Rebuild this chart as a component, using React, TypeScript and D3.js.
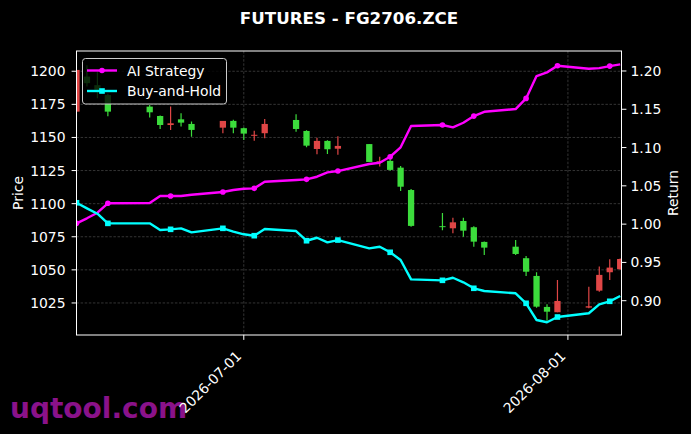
import React from "react";
import * as d3 from "d3";

const dates = [
  "2026-06-15","2026-06-16","2026-06-17","2026-06-18","2026-06-22","2026-06-23","2026-06-24","2026-06-25","2026-06-26",
  "2026-06-29","2026-06-30","2026-07-01","2026-07-02","2026-07-03","2026-07-06","2026-07-07","2026-07-08","2026-07-09",
  "2026-07-10","2026-07-13","2026-07-14","2026-07-15","2026-07-16","2026-07-17","2026-07-20","2026-07-21","2026-07-22",
  "2026-07-23","2026-07-24","2026-07-27","2026-07-28","2026-07-29","2026-07-30","2026-07-31","2026-08-03","2026-08-04",
  "2026-08-05","2026-08-06",
];
const opens = [1169.5,1196,1189.5,1182,1173.3,1166.2,1159.4,1163.7,1160.2,1157.4,1162.5,1157,1151.5,1153.2,1163.2,1154.9,1141.3,1147.4,1141.5,1145,1131.5,1132.3,1127.2,1110.3,1083,1081.4,1086.9,1082.2,1071.1,1067.5,1058.8,1045.4,1022,1018,1021.5,1034.3,1048.2,1050.5];
const highs = [1201,1204.5,1199.7,1183,1174.5,1166.5,1173.3,1168.3,1162,1162.5,1163.3,1157.5,1155,1164,1167.5,1155.5,1149.8,1147.8,1151,1145,1135.5,1135,1128.5,1111,1093,1089.4,1089.4,1083,1071.5,1072.6,1060.5,1048.2,1024,1042.4,1037.3,1052.6,1058,1058.5];
const lows = [1169,1188.5,1179.6,1166,1165,1156.4,1155.7,1158.2,1150.6,1153.2,1153.2,1148,1147.6,1149.4,1154.4,1142.6,1137.3,1137.5,1137,1131.5,1128,1124.8,1109.6,1082.5,1080,1077.6,1075,1067.5,1061.3,1061.3,1045.4,1021.4,1011.6,1018,1021,1033.5,1042.4,1050];
const closes = [1201,1191,1186,1169.5,1169,1159.4,1160.7,1161.2,1155.7,1162.5,1157.4,1152.9,1152,1160.2,1156.4,1143.8,1147.4,1141.1,1143.6,1131.5,1132,1125.5,1112.8,1083.2,1082.5,1085.9,1079.6,1071.3,1066.8,1062,1048.6,1022.2,1018.4,1026.5,1022.5,1046.2,1051.7,1058.2];
const aiReturn = [1.001,1.0076,1.0149,1.0272,1.0275,1.0367,1.0367,1.0367,1.0384,1.0419,1.0445,1.0462,1.0467,1.0553,1.0576,1.0585,1.0619,1.0676,1.0693,1.0785,1.0802,1.088,1.1003,1.1281,1.1294,1.1264,1.1324,1.1411,1.1467,1.1503,1.1642,1.1933,1.1982,1.2068,1.2029,1.2038,1.2064,1.2086];
const bhReturn = [1.0279,1.0206,1.0136,1.001,1.001,0.9923,0.9932,0.9945,0.9893,0.9945,0.9901,0.9867,0.9849,0.9936,0.991,0.9783,0.9822,0.9762,0.9792,0.9684,0.9705,0.9632,0.9531,0.9279,0.9266,0.93,0.924,0.9162,0.9127,0.9097,0.8966,0.8748,0.8718,0.8787,0.8836,0.8953,0.8992,0.9061];
const priceTicks = [1025, 1050, 1075, 1100, 1125, 1150, 1175, 1200];
const returnTicks = [0.9, 0.95, 1.0, 1.05, 1.1, 1.15, 1.2];
const dateTicks = ["2026-07-01", "2026-08-01"];
const seriesNames = ["AI Strategy", "Buy-and-Hold"];
const titleText = "FUTURES - FG2706.ZCE";

const W = 691, H = 434;
const L = 76.5, R = 621.5, T = 51, B = 335;
const FONT = "DejaVu Sans, sans-serif";
const FS = 13.9;
const UP = "#e04646", DOWN = "#3cdc3c";
const AI_C = "#ff00ff", BH_C = "#00ffff";

const parse = (s: string) => { const [y, m, d] = s.split("-").map(Number); return new Date(Date.UTC(y, m - 1, d)); };

export default function App() {
  const x = d3.scaleUtc().domain([parse("2026-06-15"), new Date(Date.UTC(2026, 7, 6, 3))]).range([L, R]);
  const yP = d3.scaleLinear().domain([1000.8, 1215.3]).range([B, T]);
  const yR = d3.scaleLinear().domain([0.8552, 1.2261]).range([B, T]);
  const dayPx = x(parse("2026-06-16")) - x(parse("2026-06-15"));
  const cw = dayPx * 0.6;
  const pts = dates.map(parse);
  const line = d3.line<number>().x((_, i) => x(pts[i])).y((v) => yR(v));

  return (
    <svg width={W} height={H} style={{ position: "absolute", left: 0, top: 0 }} fontFamily={FONT}>
      <defs>
        <clipPath id="plot"><rect x={L} y={T} width={R - L} height={B - T} /></clipPath>
      </defs>
      <rect width={W} height={H} fill="#000" />
      <text x={10} y={418} fontSize={28} fontWeight="bold" fill="#8a128a">uqtool.com</text>
      <text x={(L + R) / 2} y={24} textAnchor="middle" fontSize={16.7} fontWeight="bold" fill="#fff">{titleText}</text>
      {/* grid */}
      <g stroke="#8a8a8a" strokeOpacity={0.55} strokeWidth={0.7} strokeDasharray="2.5,1.6">
        {priceTicks.map((t) => <line key={t} x1={L} x2={R} y1={yP(t)} y2={yP(t)} />)}
        {dateTicks.map((t) => <line key={t} x1={x(parse(t))} x2={x(parse(t))} y1={T} y2={B} />)}
      </g>
      {/* candles */}
      <g clipPath="url(#plot)">
        {pts.map((d, i) => {
          const c = closes[i] >= opens[i] ? UP : DOWN;
          const cx = x(d);
          const top = yP(Math.max(opens[i], closes[i]));
          const bot = yP(Math.min(opens[i], closes[i]));
          return (
            <g key={i}>
              <line x1={cx} x2={cx} y1={yP(highs[i])} y2={yP(lows[i])} stroke={c} strokeWidth={1.2} />
              <rect x={cx - cw / 2} y={top} width={cw} height={Math.max(bot - top, 1)} fill={c} />
            </g>
          );
        })}
        <path d={line(aiReturn) || ""} fill="none" stroke={AI_C} strokeWidth={2.4} strokeLinejoin="round" />
        <path d={line(bhReturn) || ""} fill="none" stroke={BH_C} strokeWidth={2.4} strokeLinejoin="round" />
        {aiReturn.map((v, i) => i % 3 === 0 ? <circle key={i} cx={x(pts[i])} cy={yR(v)} r={2.8} fill={AI_C} /> : null)}
        {bhReturn.map((v, i) => i % 3 === 0 ? <rect key={i} x={x(pts[i]) - 2.8} y={yR(v) - 2.8} width={5.6} height={5.6} fill={BH_C} /> : null)}
      </g>
      {/* spines */}
      <rect x={L} y={T} width={R - L} height={B - T} fill="none" stroke="#fff" strokeWidth={1} />
      {/* axes */}
      <g fill="#fff" fontSize={FS}>
        {priceTicks.map((t) => (
          <g key={t}>
            <line x1={L - 4.9} x2={L} y1={yP(t)} y2={yP(t)} stroke="#fff" />
            <text x={L - 11} y={yP(t)} dy="0.36em" textAnchor="end">{t}</text>
          </g>
        ))}
        {returnTicks.map((t) => (
          <g key={t}>
            <line x1={R} x2={R + 4.9} y1={yR(t)} y2={yR(t)} stroke="#fff" />
            <text x={R + 9} y={yR(t)} dy="0.36em" textAnchor="start">{t.toFixed(2)}</text>
          </g>
        ))}
        {dateTicks.map((t) => {
          const tx = x(parse(t));
          return (
            <g key={t}>
              <line x1={tx} x2={tx} y1={B} y2={B + 4.9} stroke="#fff" />
              <text transform={`translate(${tx - 1.5},${B + 22}) rotate(-45)`} textAnchor="end">{t}</text>
            </g>
          );
        })}
        <text transform={`translate(23,${(T + B) / 2}) rotate(-90)`} textAnchor="middle">Price</text>
        <text transform={`translate(678,${(T + B) / 2}) rotate(-90)`} textAnchor="middle">Return</text>
      </g>
      {/* legend */}
      <g>
        <rect x={82.5} y={58.5} width={144} height={45.5} rx={3} fill="#000" fillOpacity={0.8} stroke="#cccccc" strokeWidth={1} />
        <line x1={87} x2={117} y1={70.5} y2={70.5} stroke={AI_C} strokeWidth={2.4} />
        <circle cx={102} cy={70.5} r={2.8} fill={AI_C} />
        <line x1={87} x2={117} y1={91} y2={91} stroke={BH_C} strokeWidth={2.4} />
        <rect x={102 - 2.8} y={91 - 2.8} width={5.6} height={5.6} fill={BH_C} />
        <text x={127} y={70.5} dy="0.36em" fontSize={FS} fill="#fff">{seriesNames[0]}</text>
        <text x={127} y={91} dy="0.36em" fontSize={FS} fill="#fff">{seriesNames[1]}</text>
      </g>
    </svg>
  );
}
